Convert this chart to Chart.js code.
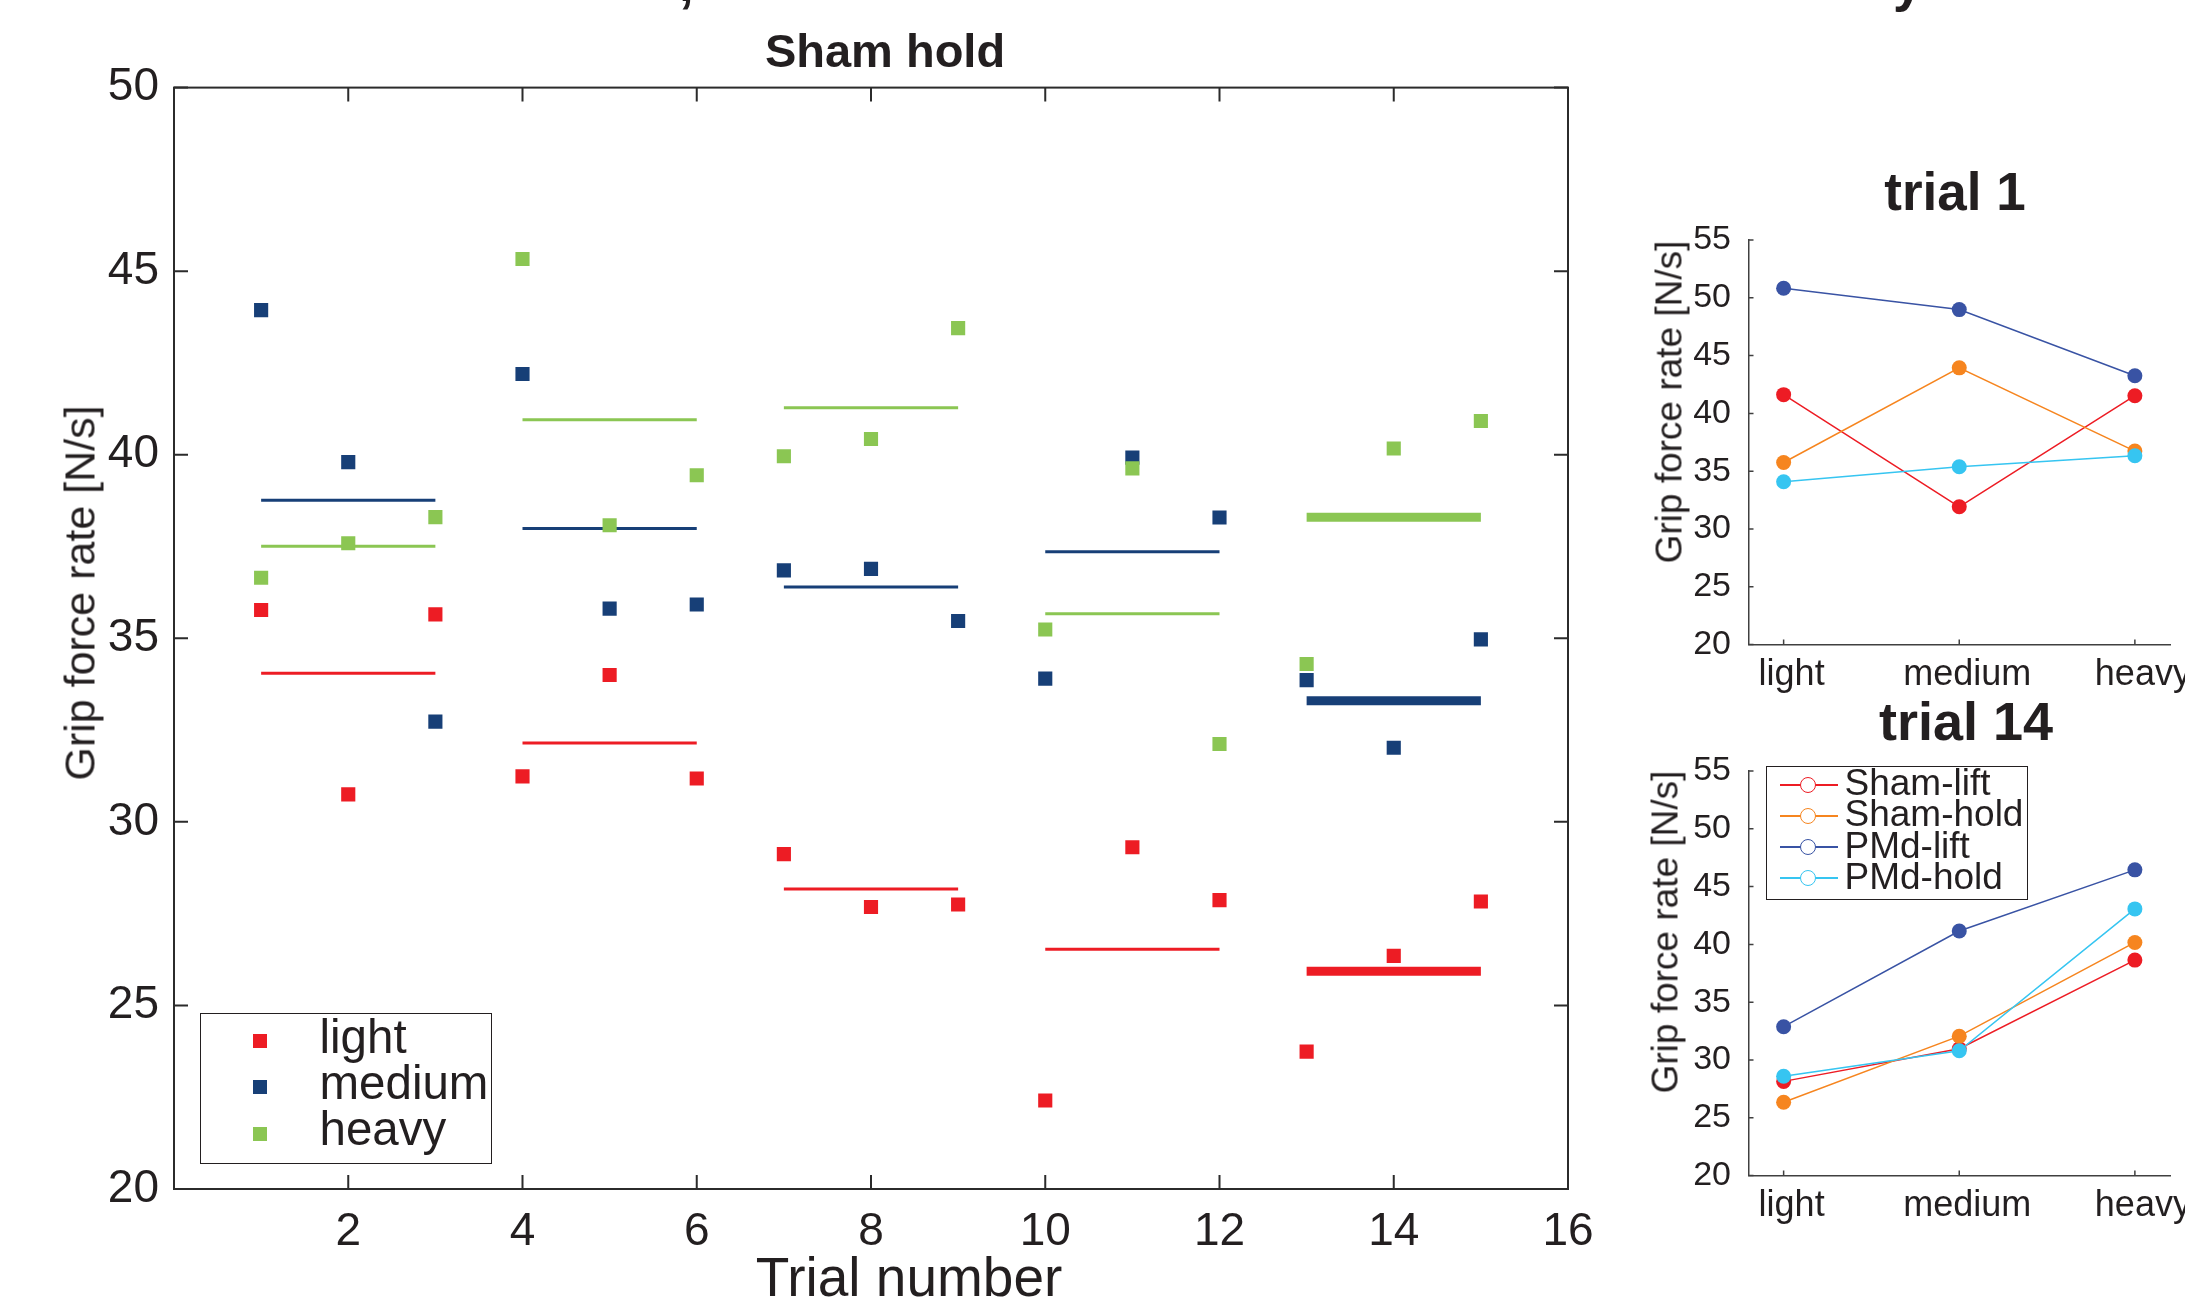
<!DOCTYPE html>
<html>
<head>
<meta charset="utf-8">
<script src="https://cdn.jsdelivr.net/npm/chart.js@4.4.1/dist/chart.umd.min.js"></script>
<style>
  html, body { margin: 0; padding: 0; background: #fff; }
  body {
    width: 2185px; height: 1297px; position: relative; overflow: hidden;
    font-family: "Liberation Sans", Arial, sans-serif; color: #231f20;
  }
  canvas { position: absolute; }
  .t { position: absolute; white-space: nowrap; line-height: 1; transform: translate(-50%, -50%); }
  .t.rot { transform: translate(-50%, -50%) rotate(-90deg); }
  .t.b { font-weight: bold; }
  .frag { position: absolute; white-space: nowrap; line-height: 1; font-weight: bold; }
  .legend { position: absolute; box-sizing: border-box; border: 1.5px solid #231f20; background: #fff; }
  .legend > * { position: absolute; }
  .lg-txt { white-space: nowrap; line-height: 1; transform: translateY(-50%); }
</style>
</head>
<body>
<canvas id="main" width="1620" height="1297" style="left:0;top:0"></canvas>
<canvas id="trial1" width="567" height="600" style="left:1620px;top:100px"></canvas>
<canvas id="trial14" width="567" height="600" style="left:1620px;top:630.5px"></canvas>
<script>
/* ---------------------------------------------------------------- data */
const trials = [1, 2, 3, 4, 5, 6, 7, 8, 9, 10, 11, 12, 13, 14, 15];
const light  = [35.77, 30.75, 35.65, 31.24, 34.00, 31.18, 29.12, 27.68, 27.75, 22.41, 29.31, 27.87, 23.74, 26.35, 27.83];
const medium = [43.94, 39.80, 32.73, 42.20, 35.81, 35.92, 36.85, 36.89, 35.47, 33.90, 39.92, 38.29, 33.86, 32.02, 34.97];
const heavy  = [36.65, 37.59, 38.30, 45.33, 38.08, 39.44, 39.96, 40.43, 43.45, 35.24, 39.63, 32.12, 34.30, 40.17, 40.92];

// block averages (horizontal bars), trials blockFirst..blockLast
const blockFirst = [1, 4, 7, 10, 13];
const blockLast  = [3, 6, 9, 12, 15];
const meanLight  = [34.05, 32.15, 28.17, 26.53, 25.93];
const meanMedium = [38.76, 37.99, 36.40, 37.36, 33.30];
const meanHeavy  = [37.51, 40.95, 41.28, 35.67, 38.30];

const trialTicks = [2, 4, 6, 8, 10, 12, 14, 16];
const rateTicks  = [20, 25, 30, 35, 40, 45, 50];

// right panels
const weightNames = ['light', 'medium', 'heavy'];
const weightTicks = [1, 2, 3];
const groupNames  = ['Sham-lift', 'Sham-hold', 'PMd-lift', 'PMd-hold'];
const smallRateTicks = [20, 25, 30, 35, 40, 45, 50, 55];

const trial1ShamLift = [41.62, 31.92, 41.53];
const trial1ShamHold = [35.75, 43.94, 36.74];
const trial1PmdLift  = [50.83, 48.98, 43.26];
const trial1PmdHold  = [34.09, 35.38, 36.34];

const trial14ShamLift = [28.15, 30.97, 38.64];
const trial14ShamHold = [26.34, 32.06, 40.17];
const trial14PmdLift  = [32.88, 41.16, 46.45];
const trial14PmdHold  = [28.59, 30.80, 43.07];

/* -------------------------------------------------------------- styles */
const COL = {
  light: '#ed1c24', medium: '#173f77', heavy: '#8bc653',
  shamLift: '#ed1c24', shamHold: '#f6851f', pmdLift: '#3953a4', pmdHold: '#36c5f1',
  ink: '#231f20', axis: '#404040',
};
const FONT = '"Liberation Sans", Arial, sans-serif';

Chart.defaults.font.family = FONT;
Chart.defaults.color = COL.ink;
Chart.defaults.animation = false;
Chart.defaults.plugins.legend.display = false;
Chart.defaults.plugins.tooltip.enabled = false;

// MATLAB-style tick marks pointing into the plot (+ optional full box)
const inTicks = {
  id: 'inTicks',
  afterDraw(chart, args, o) {
    const { ctx, chartArea: a, scales: { x, y } } = chart;
    ctx.save();
    ctx.strokeStyle = o.color;
    ctx.lineWidth = o.width;
    ctx.beginPath();
    x.ticks.forEach(function (t) {
      const px = x.getPixelForValue(t.value);
      ctx.moveTo(px, a.bottom); ctx.lineTo(px, a.bottom - o.len);
      if (o.box) { ctx.moveTo(px, a.top); ctx.lineTo(px, a.top + o.len); }
    });
    y.ticks.forEach(function (t) {
      const py = y.getPixelForValue(t.value);
      ctx.moveTo(a.left, py); ctx.lineTo(a.left + o.len, py);
      if (o.box) { ctx.moveTo(a.right, py); ctx.lineTo(a.right - o.len, py); }
    });
    ctx.stroke();
    if (o.box) ctx.strokeRect(a.left, a.top, a.right - a.left, a.bottom - a.top);
    ctx.restore();
  },
};

function fixedTicks(list) {
  return function (s) { s.ticks = list.map(function (v) { return { value: v }; }); };
}

/* ---------------------------------------------------------- main chart */
function markers(label, vals, color, order) {
  return {
    type: 'scatter', label: label, order: order,
    data: trials.map(function (t, i) { return { x: t, y: vals[i] }; }),
    pointStyle: 'rect', pointRadius: 10, pointHoverRadius: 10,
    backgroundColor: color, borderColor: color, borderWidth: 0, pointBorderWidth: 0,
  };
}

function meanBars(vals, color) {
  const pts = [];
  vals.forEach(function (m, i) {
    pts.push({ x: blockFirst[i], y: m }, { x: blockLast[i], y: m }, { x: blockLast[i] + 0.5, y: null });
  });
  const lastBlock = 3 * (vals.length - 1);
  return {
    type: 'line', order: 10, data: pts,
    borderColor: color, borderWidth: 3, borderCapStyle: 'butt',
    pointRadius: 0, spanGaps: false,
    segment: { borderWidth: function (c) { return c.p0DataIndex >= lastBlock ? 9 : 3; } },
  };
}

new Chart(document.getElementById('main'), {
  type: 'scatter',
  data: {
    datasets: [
      meanBars(meanLight, COL.light),
      meanBars(meanMedium, COL.medium),
      meanBars(meanHeavy, COL.heavy),
      markers('light', light, COL.light, 3),
      markers('medium', medium, COL.medium, 2),
      markers('heavy', heavy, COL.heavy, 1),
    ],
  },
  options: {
    responsive: false, devicePixelRatio: 1,
    layout: { padding: { left: 0, top: 87.6, right: 52, bottom: 0 } },
    scales: {
      x: {
        type: 'linear', min: 0, max: 16,
        afterBuildTicks: fixedTicks(trialTicks),
        afterFit: function (s) { s.height = 108; },
        grid: { display: false }, border: { display: false },
        ticks: { font: { size: 46 }, padding: 8, maxRotation: 0, autoSkip: false },
      },
      y: {
        type: 'linear', min: 20, max: 50,
        afterBuildTicks: fixedTicks(rateTicks),
        afterFit: function (s) { s.width = 174; },
        grid: { display: false }, border: { display: false },
        ticks: { font: { size: 46 }, padding: 7, autoSkip: false },
      },
    },
    plugins: { inTicks: { len: 14, box: true, color: '#2b2b2b', width: 2 } },
  },
  plugins: [inTicks],
});

/* -------------------------------------------------------- right panels */
function groupLine(label, vals, color, order) {
  return {
    label: label, order: order,
    data: weightTicks.map(function (w, i) { return { x: w, y: vals[i] }; }),
    borderColor: color, backgroundColor: color, borderWidth: 1.5,
    pointStyle: 'circle', pointRadius: 7.5, pointHoverRadius: 7.5, pointBorderWidth: 0,
  };
}

function smallChart(id, sl, sh, pl, ph) {
  return new Chart(document.getElementById(id), {
    type: 'line',
    data: {
      datasets: [
        groupLine(groupNames[0], sl, COL.shamLift, 4),
        groupLine(groupNames[1], sh, COL.shamHold, 3),
        groupLine(groupNames[2], pl, COL.pmdLift, 2),
        groupLine(groupNames[3], ph, COL.pmdHold, 1),
      ],
    },
    options: {
      responsive: false, devicePixelRatio: 1,
      layout: { padding: { left: 0, top: 140, right: 17, bottom: 0 } },
      scales: {
        x: {
          type: 'linear', min: 0.8, max: 3.2,
          afterBuildTicks: fixedTicks(weightTicks),
          afterFit: function (s) { s.height = 55.4; },
          grid: { display: false }, border: { display: true, color: COL.axis, width: 1.5 },
          ticks: {
            font: { size: 36 }, padding: 1, labelOffset: 8, maxRotation: 0, autoSkip: false,
            callback: function (v) { return weightNames[v - 1]; },
          },
        },
        y: {
          type: 'linear', min: 20, max: 55,
          afterBuildTicks: fixedTicks(smallRateTicks),
          afterFit: function (s) { s.width = 128.5; },
          grid: { display: false }, border: { display: true, color: COL.axis, width: 1.5 },
          ticks: { font: { size: 34 }, padding: 9.5, autoSkip: false },
        },
      },
      plugins: { inTicks: { len: 5, box: false, color: COL.axis, width: 1.5 } },
    },
    plugins: [inTicks],
  });
}

smallChart('trial1', trial1ShamLift, trial1ShamHold, trial1PmdLift, trial1PmdHold);
smallChart('trial14', trial14ShamLift, trial14ShamHold, trial14PmdLift, trial14PmdHold);

/* ------------------------------------------------------- text & legends */
function el(tag, cls, css, text) {
  const e = document.createElement(tag);
  if (cls) e.className = cls;
  Object.keys(css || {}).forEach(function (k) {
    e.style[k] = typeof css[k] === 'number' ? css[k] + 'px' : css[k];
  });
  if (text != null) e.textContent = text;
  return e;
}

const labels = [
  { text: 'Sham hold', cx: 885, cy: 50.4, size: 47, bold: true },
  { text: 'Trial number', cx: 909, cy: 1277.4, size: 55 },
  { text: 'Grip force rate [N/s]', cx: 79.6, cy: 593, size: 43, rot: true },
  { text: 'trial 1', cx: 1955, cy: 191.2, size: 53, bold: true },
  { text: 'Grip force rate [N/s]', cx: 1668.7, cy: 401.5, size: 37, rot: true },
  { text: 'trial 14', cx: 1966, cy: 721, size: 54, bold: true },
  { text: 'Grip force rate [N/s]', cx: 1664.5, cy: 932, size: 37, rot: true },
];
labels.forEach(function (l) {
  document.body.appendChild(el('div', 't' + (l.bold ? ' b' : '') + (l.rot ? ' rot' : ''),
    { left: l.cx, top: l.cy, fontSize: l.size }, l.text));
});

// clipped heading above the figure: only the descenders remain visible
[{ text: ',', left: 679 }, { text: 'y', left: 1893 }].forEach(function (f) {
  document.body.appendChild(el('div', 'frag', { left: f.left, top: 1 - 0.8465 * 53, fontSize: 53 }, f.text));
});

// main legend (MATLAB box, square markers)
(function () {
  const box = el('div', 'legend', { left: 199.5, top: 1012.6, width: 292.5, height: 151.5 });
  const colors = [COL.light, COL.medium, COL.heavy];
  weightNames.forEach(function (name, i) {
    const ry = 27.7 + i * 46.2;
    box.appendChild(el('div', '', { left: 52.7, top: ry - 7, width: 14, height: 14, background: colors[i] }));
    box.appendChild(el('div', 'lg-txt', { left: 119, top: ry - 4.5, fontSize: 47.5 }, name));
  });
  document.body.appendChild(box);
})();

// trial 14 legend (line + open circle)
(function () {
  const box = el('div', 'legend', { left: 1766, top: 765.8, width: 262, height: 134 });
  const colors = [COL.shamLift, COL.shamHold, COL.pmdLift, COL.pmdHold];
  groupNames.forEach(function (name, i) {
    const ry = 18.2 + i * 31.07;
    box.appendChild(el('div', '', { left: 12.5, top: ry - 0.75, width: 58, height: 1.5, background: colors[i] }));
    box.appendChild(el('div', '', {
      left: 41 - 8, top: ry - 8, width: 16, height: 16, boxSizing: 'border-box',
      border: '1.5px solid ' + colors[i], borderRadius: '50%', background: '#fff',
    }));
    box.appendChild(el('div', 'lg-txt', { left: 77.5, top: ry - 2.6, fontSize: 37 }, name));
  });
  document.body.appendChild(box);
})();
</script>
</body>
</html>
